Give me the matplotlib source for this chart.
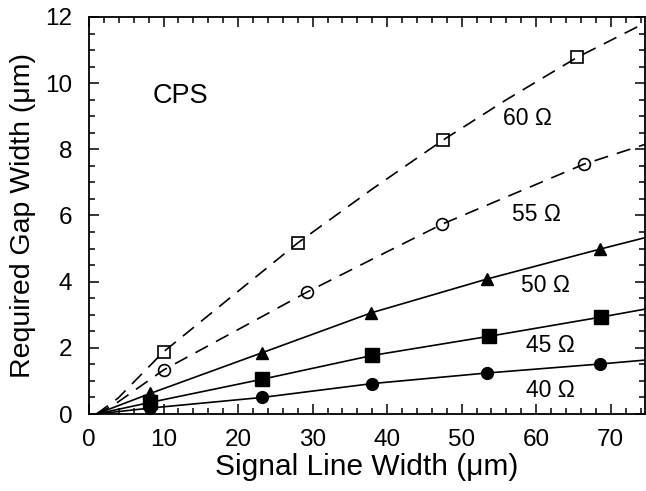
import matplotlib
matplotlib.use('Agg')
import matplotlib.pyplot as plt
from matplotlib.ticker import MultipleLocator

plt.rcParams['font.family'] = ['Liberation Sans', 'DejaVu Sans']

# curves (signal width um -> gap width um)
x60 = [1.0, 3.9, 10.0, 19.9, 28.0, 38.0, 47.5, 56.0, 65.5, 74.6]
y60 = [0.0, 0.48, 1.88, 3.69, 5.17, 6.80, 8.28, 9.50, 10.78, 11.82]
x55 = [1.0, 3.5, 10.0, 19.9, 29.3, 38.0, 47.4, 56.0, 66.4, 74.6]
y55 = [0.0, 0.30, 1.33, 2.54, 3.69, 4.68, 5.74, 6.56, 7.55, 8.15]
x50 = [1.0, 8.2, 23.2, 37.9, 53.4, 68.5, 74.6]
y50 = [0.0, 0.62, 1.85, 3.06, 4.08, 4.98, 5.33]
x45 = [1.0, 8.2, 23.2, 38.0, 53.7, 68.7, 74.6]
y45 = [0.0, 0.35, 1.05, 1.77, 2.35, 2.93, 3.17]
x40 = [1.0, 8.2, 23.2, 38.0, 53.4, 68.5, 74.6]
y40 = [0.0, 0.18, 0.50, 0.92, 1.24, 1.51, 1.63]

# marker positions
m60_x = [10.0, 28.0, 47.5, 65.5]
m60_y = [1.88, 5.17, 8.28, 10.78]
m55_x = [10.0, 29.3, 47.4, 66.4]
m55_y = [1.33, 3.69, 5.74, 7.55]
m50_x = [8.2, 23.2, 37.9, 53.4, 68.5]
m50_y = [0.62, 1.85, 3.06, 4.08, 4.98]
m45_x = [8.2, 23.2, 38.0, 53.7, 68.7]
m45_y = [0.35, 1.05, 1.77, 2.35, 2.93]
m40_x = [8.2, 23.2, 38.0, 53.4, 68.5]
m40_y = [0.18, 0.50, 0.92, 1.24, 1.51]

labels = ["60 Ω", "55 Ω", "50 Ω", "45 Ω", "40 Ω"]
label_x = [58.8, 60.0, 61.2, 61.9, 61.9]
label_y = [8.94, 6.04, 3.87, 2.08, 0.70]

fig = plt.figure(figsize=(6.46, 4.91), dpi=100)
ax = fig.add_axes([0.1378, 0.1568, 0.8607, 0.8086])

dash = (0, (8.5, 5.5))
ax.plot(x60, y60, color='black', lw=1.2, linestyle=dash)
ax.plot(x55, y55, color='black', lw=1.2, linestyle=dash)
ax.plot(x50, y50, color='black', lw=1.2)
ax.plot(x45, y45, color='black', lw=1.2)
ax.plot(x40, y40, color='black', lw=1.2)

ax.plot(m60_x, m60_y, 's', ms=8.5, mfc='none', mec='black', mew=1.2, clip_on=False)
ax.plot(m55_x, m55_y, 'o', ms=8.5, mfc='none', mec='black', mew=1.2, clip_on=False)
ax.plot(m50_x, m50_y, '^', ms=8.5, color='black', clip_on=False)
ax.plot(m45_x, m45_y, 's', ms=10, color='black', clip_on=False)
ax.plot(m40_x, m40_y, 'o', ms=8.5, color='black', clip_on=False)

for t, lx, ly in zip(labels, label_x, label_y):
    ax.text(lx, ly, t, fontsize=16.5, ha='center', va='center')
ax.text(12.3, 9.6, "CPS", fontsize=19.5, ha='center', va='center')

ax.set_xlim(0, 74.6)
ax.set_ylim(0, 12)
ax.xaxis.set_major_locator(MultipleLocator(10))
ax.xaxis.set_minor_locator(MultipleLocator(2))
ax.yaxis.set_major_locator(MultipleLocator(2))
ax.yaxis.set_minor_locator(MultipleLocator(0.5))
ax.tick_params(which='both', direction='in', top=True, right=True, labelsize=17.5, width=1.1)
ax.tick_params(which='major', length=7.5)
ax.tick_params(which='minor', length=4)
ax.tick_params(axis='x', pad=11)
ax.tick_params(axis='y', pad=12)
for spine in ax.spines.values():
    spine.set_linewidth(1.3)

ax.set_xlabel("Signal Line Width (μm)", fontsize=21.5, labelpad=1)
ax.set_ylabel("Required Gap Width (μm)", fontsize=20.5, labelpad=7)

plt.savefig("out.png", dpi=100)
